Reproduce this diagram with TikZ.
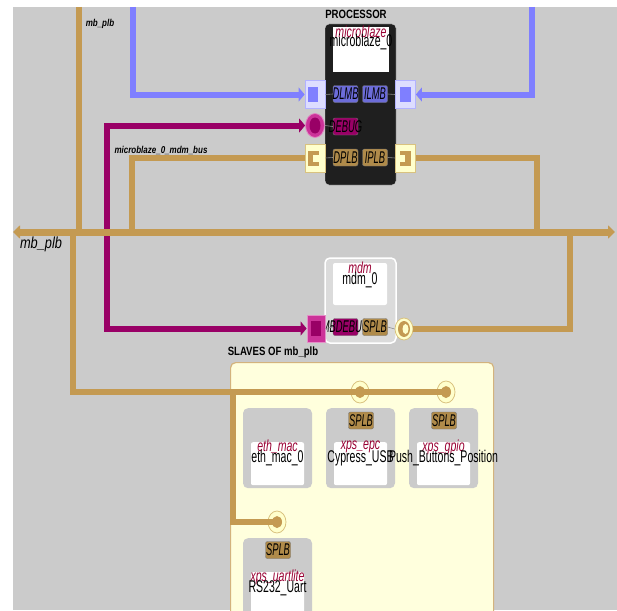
\documentclass[tikz,border=0pt]{standalone}
\usepackage{fontspec}
\setmainfont{Liberation Sans}
\newfontfamily\cnd[FakeStretch=0.8]{Liberation Sans}
\newfontfamily\tcnd[FakeStretch=0.66]{Liberation Sans}
\newfontfamily\icnd[FakeStretch=0.62]{Liberation Sans}
\newfontfamily\ncnd[FakeStretch=0.55]{Liberation Sans}
\usetikzlibrary{arrows.meta,shapes.geometric}
\definecolor{bggray}{HTML}{CBCBCB}
\definecolor{plbtan}{HTML}{C49A52}
\definecolor{lmbblue}{HTML}{7F7FFF}
\definecolor{dbgmag}{HTML}{990066}
\definecolor{dbgpink}{HTML}{CC3399}
\definecolor{paleyel}{HTML}{FFFFDD}
\definecolor{portyel}{HTML}{FFFFCC}
\definecolor{portedge}{HTML}{D9C27F}
\definecolor{paleblue}{HTML}{DDDDFF}
\definecolor{typered}{HTML}{990033}
\tikzset{
  bus/.style={line width=6pt},
  tipm/.style={-{Triangle[width=14pt,length=6pt]}},
  blk/.style={rounded corners=2pt,minimum width=25pt,minimum height=17pt,inner sep=0pt,draw=black!55,line width=0.4pt},
  blktxt/.style={font=\ncnd\itshape\fontsize{17}{17}\selectfont,inner sep=0pt},
  typelbl/.style={text=typered,font=\tcnd\itshape\fontsize{16}{16}\selectfont,inner sep=0pt},
  instlbl/.style={font=\icnd\fontsize{17}{17}\selectfont,inner sep=0pt},
  netlbl/.style={font=\cnd\bfseries\itshape\fontsize{10}{10}\selectfont,inner sep=0pt},
  grplbl/.style={font=\cnd\bfseries\fontsize{12}{12}\selectfont,inner sep=0pt},
  sqport/.style={minimum width=20pt,minimum height=28pt,inner sep=0pt,line width=0.8pt},
  ringport/.style={ellipse,fill=portyel,draw=portedge,line width=0.8pt,minimum width=18pt,minimum height=22pt,inner sep=0pt},
  devbox/.style={fill=bggray,rounded corners=5pt,minimum width=69pt,minimum height=80pt,inner sep=0pt,anchor=north}
}
\begin{document}
\begin{tikzpicture}[x=1pt,y=-1pt,font=\cnd]
  \useasboundingbox (0,0) rectangle (617,610);
  \clip (0,0) rectangle (617,610);
  \fill[bggray] (13,7) rectangle (617,610);
  \coordinate (busW) at (13,232);
  \coordinate (busE) at (615,232);
  \coordinate (plbtop) at (79,7);
  \coordinate (plbdown) at (73,232);
  \coordinate (tjoin) at (233,392);
  \coordinate (lmbL) at (133,7);
  \coordinate (lmbR) at (532,7);

  \node[grplbl] (plabel) at (356,14) {PROCESSOR};
  \node[draw=white!85!black,fill=black!88,rounded corners=4pt,minimum width=71pt,minimum height=161pt,inner sep=0pt] (proc) at (360.5,104.5) {};
  \node[fill=white,minimum width=56pt,minimum height=45pt,inner sep=0pt] (procname) at (361,49.5) {};
  \node[typelbl] (tproc) at (361,32) {microblaze};
  \node[instlbl] (iproc) at (361,42) {microblaze\_0};

  \node[fill=black!14,draw=white,line width=1.5pt,rounded corners=5pt,minimum width=71pt,minimum height=85pt,inner sep=0pt] (mdm) at (360.5,300.5) {};
  \node[fill=white,rounded corners=2pt,minimum width=54pt,minimum height=42pt,inner sep=0pt] (mdmname) at (360,284) {};
  \node[typelbl] (tmdm) at (360,268) {mdm};
  \node[instlbl] (imdm) at (360,280) {mdm\_0};

  \node[grplbl] (slvlabel) at (273,352) {SLAVES OF mb\_plb};
  \node[fill=paleyel,draw=plbtan!75!white,line width=1.2pt,rounded corners=5pt,minimum width=263pt,minimum height=260pt,inner sep=0pt,anchor=north west] (slaves) at (230,362) {};
  \foreach \nm/\x/\y/\typ/\inst in {eth/277.5/408/eth\_mac/eth\_mac\_0,epc/360.5/408/xps\_epc/Cypress\_USB,
      gpio/443.5/408/xps\_gpio/Push\_Buttons\_Position,uart/277.5/538/xps\_uartlite/RS232\_Uart}{
    \node[devbox] (d\nm) at (\x,\y) {};
    \node[fill=white,rounded corners=2pt,minimum width=53pt,minimum height=43pt,inner sep=0pt,anchor=north] (w\nm) at (\x,\y+34) {};
    \node[typelbl] (t\nm) at (\x,\y+39) {\typ};
    \node[instlbl] (i\nm) at (\x,\y+50) {\inst};}

  \foreach \nm/\x/\y/\col/\txt in {dlmb/345.5/94/lmbblue!85!black/DLMB,ilmb/375/94/lmbblue!85!black/ILMB,
      dbg/345.5/126.5/dbgmag/DEBUG,dplb/345.5/157.5/plbtan!90!black/DPLB,iplb/375/157.5/plbtan!90!black/IPLB,
      mbd/345.5/327/dbgmag/MBDEBUG,splbm/375/327/plbtan!90!black/SPLB,splbe/361/420.5/plbtan!90!black/SPLB,
      splbg/444/420.5/plbtan!90!black/SPLB,splbu/278/550/plbtan!90!black/SPLB}
    \node[blk,fill=\col,label={[blktxt]center:\txt}] (b\nm) at (\x,\y) {};

  \node[sqport,fill=paleblue,draw=lmbblue!60] (pdlmb) at (315,94.5) {};
  \node[sqport,fill=paleblue,draw=lmbblue!60] (pilmb) at (405.5,94.5) {};
  \foreach \x in {313,405.5}{\fill[lmbblue] (\x-5.5,87) rectangle (\x+5,102);}
  \node[ellipse,fill=dbgpink,draw=dbgpink!60!white,line width=0.8pt,minimum width=19pt,minimum height=24pt,inner sep=0pt] (pdbg) at (315,125.5) {};
  \fill[dbgmag] (pdbg.center) ellipse[x radius=5.5pt,y radius=8pt];
  \node[sqport,fill=portyel,draw=portedge] (pdplb) at (315,158) {};
  \node[sqport,fill=portyel,draw=portedge] (piplb) at (405.5,158) {};
  \fill[plbtan] (308,151) rectangle (319,166);
  \fill[portyel] (313,155) rectangle (319,162);
  \fill[plbtan] (400,151) rectangle (411,166);
  \fill[portyel] (400,155) rectangle (405,162);
  \node[sqport,minimum width=18pt,minimum height=27pt,fill=dbgpink,draw=dbgpink!55!white] (pmbd) at (316,328.5) {};
  \fill[dbgmag] (311,321) rectangle (321,336);
  \node[ringport] (psplbm) at (404,329) {};
  \fill[plbtan] (psplbm.center) ellipse[x radius=6pt,y radius=8pt];
  \fill[portyel] ([xshift=1.5pt]psplbm.center) ellipse[x radius=3pt,y radius=5pt];
  \foreach \nm/\x/\y in {pepc/360/392,pgpio/446/392,puart/277/522}
    \node[ringport] (\nm) at (\x,\y) {};

  \foreach \a/\b in {pdlmb/bdlmb,pdbg/bdbg,pdplb/bdplb,pmbd/bmbd}
    \draw[black!45,line width=0.6pt] (\a.east) -- (\b.west);
  \foreach \a/\b in {pilmb/bilmb,piplb/biplb,psplbm/bsplbm}
    \draw[black!45,line width=0.6pt] (\a.west) -- (\b.east);

  \draw[bus,lmbblue,tipm] (lmbL) |- (pdlmb.west);
  \draw[bus,lmbblue,tipm] (lmbR) |- (pilmb.east);
  \draw[bus,dbgmag,{Triangle[width=14pt,length=6pt]}-{Triangle[width=14pt,length=6pt]}] (pdbg.west) -| (107,280) |- (pmbd.west);
  \draw[bus,plbtan] (plbtop) -- (79,232);
  \draw[bus,plbtan] (pdplb.west) -| (132,232);
  \draw[bus,plbtan] (piplb.east) -| (537,232);
  \draw[bus,plbtan] (psplbm.east) -| (570,232);
  \draw[bus,plbtan] (plbdown) |- (pgpio.center);
  \draw[bus,plbtan] (tjoin) |- (puart.center);
  \draw[line width=7pt,plbtan,{Triangle[width=13pt,length=7pt]}-{Triangle[width=13pt,length=7pt]}] (busW) -- (busE);
  \foreach \nm in {pepc,pgpio,puart}
    \fill[plbtan] (\nm.center) ellipse[x radius=5pt,y radius=6pt];

  \node[netlbl] (lblplb) at (100,24) {mb\_plb};
  \node[netlbl] (lblmdmbus) at (161,150) {microblaze\_0\_mdm\_bus};
  \node[font=\cnd\itshape\fontsize{16}{16}\selectfont,inner sep=0pt] (lblbus) at (41,244) {mb\_plb};
\end{tikzpicture}
\end{document}
